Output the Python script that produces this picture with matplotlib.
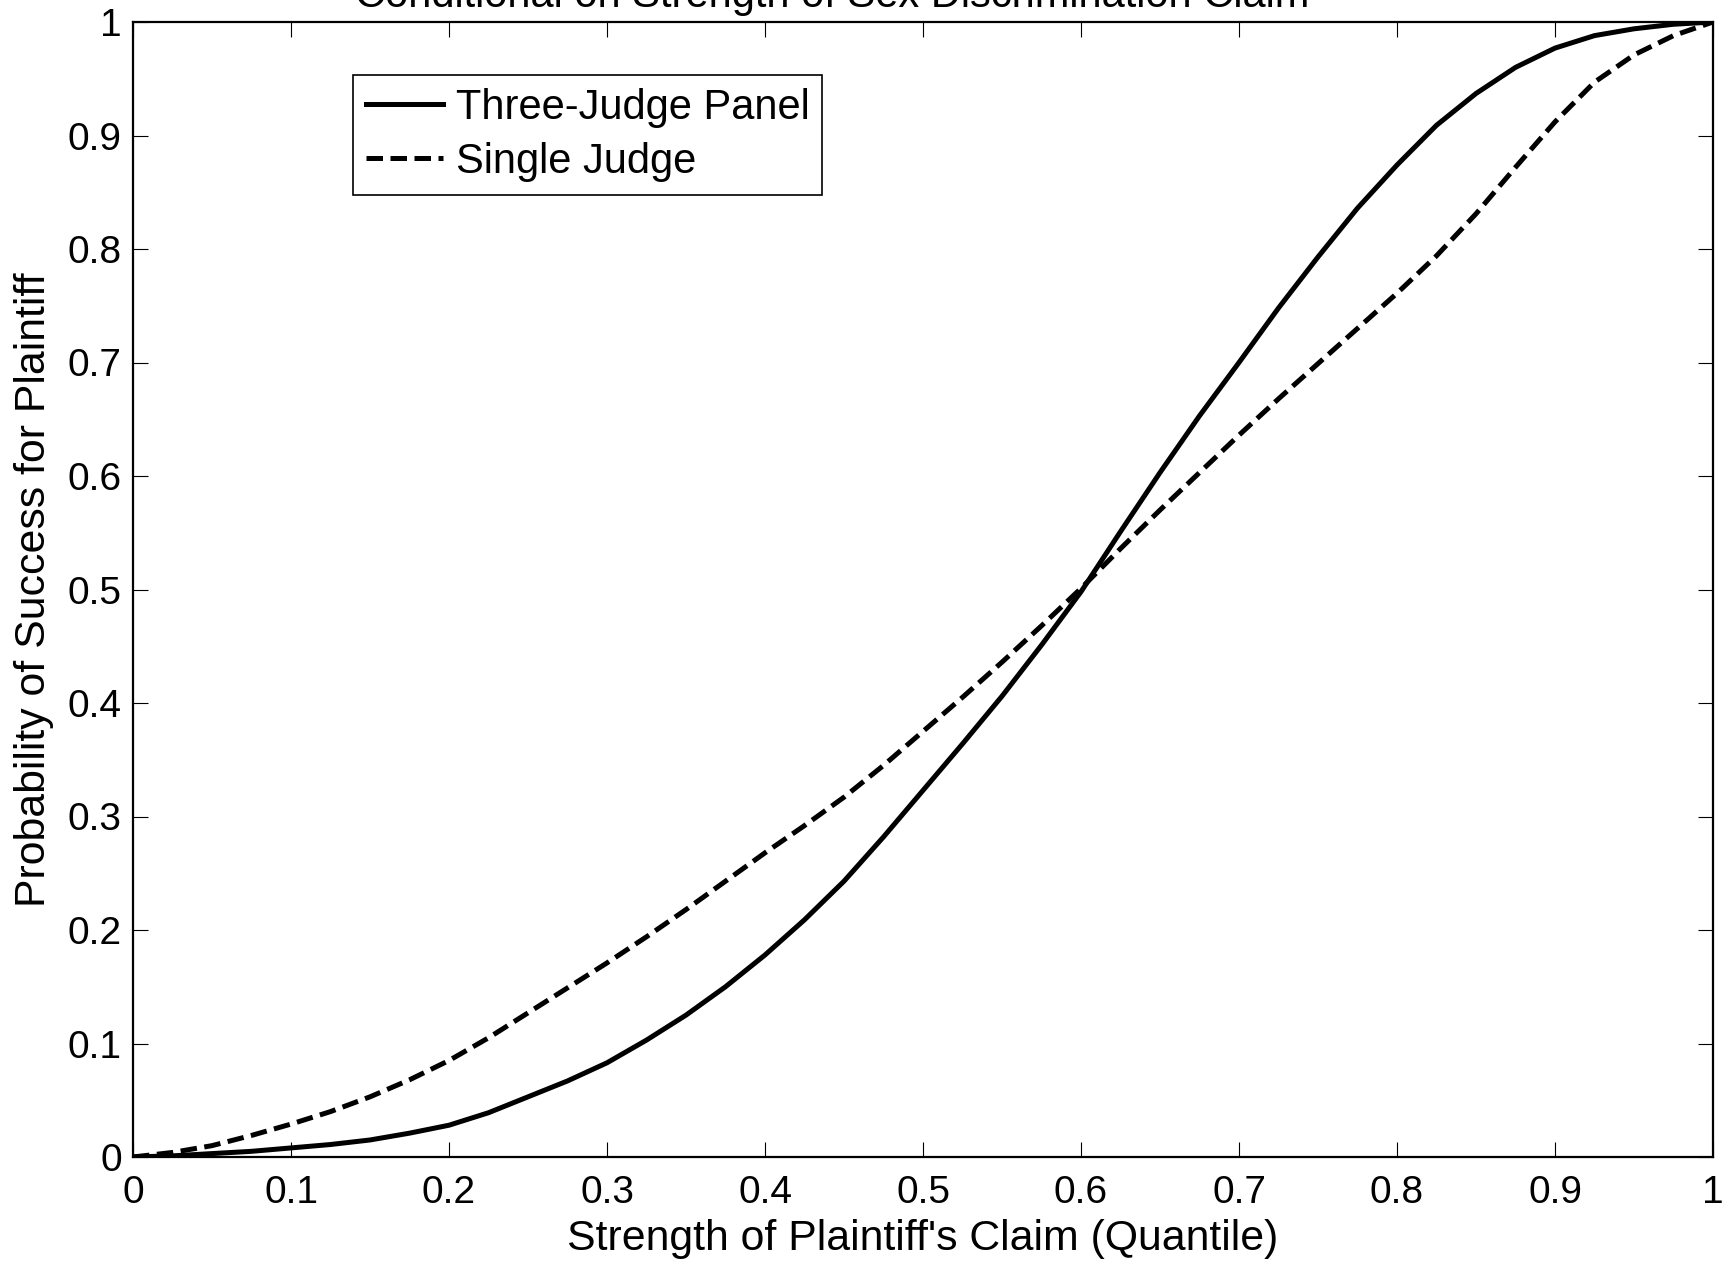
import matplotlib
matplotlib.use("Agg")
import matplotlib.pyplot as plt

plt.rcParams['font.family'] = ['Liberation Sans', 'DejaVu Sans']

x_vals = [0.0, 0.025, 0.05, 0.075, 0.1, 0.125, 0.15, 0.175, 0.2, 0.225,
          0.25, 0.275, 0.3, 0.325, 0.35, 0.375, 0.4, 0.425, 0.45, 0.475,
          0.5, 0.525, 0.55, 0.575, 0.6, 0.625, 0.65, 0.675, 0.7, 0.725,
          0.75, 0.775, 0.8, 0.825, 0.85, 0.875, 0.9, 0.925, 0.95, 0.975, 1.0]
three_judge = [0.0, 0.001, 0.003, 0.005, 0.008, 0.011, 0.015, 0.021, 0.028, 0.039,
               0.053, 0.067, 0.083, 0.103, 0.125, 0.150, 0.178, 0.209, 0.243, 0.282,
               0.323, 0.364, 0.406, 0.451, 0.498, 0.551, 0.603, 0.653, 0.700, 0.748,
               0.793, 0.836, 0.874, 0.909, 0.937, 0.960, 0.977, 0.988, 0.994, 0.998, 1.0]
single_judge = [0.0, 0.004, 0.010, 0.019, 0.029, 0.040, 0.053, 0.068, 0.085, 0.105,
                0.127, 0.149, 0.171, 0.194, 0.218, 0.243, 0.268, 0.292, 0.317, 0.345,
                0.375, 0.405, 0.436, 0.468, 0.501, 0.536, 0.570, 0.603, 0.636, 0.668,
                0.699, 0.730, 0.761, 0.794, 0.831, 0.872, 0.912, 0.947, 0.971, 0.988, 1.0]
series_names = ["Three-Judge Panel", "Single Judge"]
title_text = "Conditional on Strength of Sex Discrimination Claim"
x_label = "Strength of Plaintiff's Claim (Quantile)"
y_label = "Probability of Success for Plaintiff"
ticks = [0, 0.1, 0.2, 0.3, 0.4, 0.5, 0.6, 0.7, 0.8, 0.9, 1]
tick_labels = ["0", "0.1", "0.2", "0.3", "0.4", "0.5", "0.6", "0.7", "0.8", "0.9", "1"]

W, H = 1722, 1261
fig = plt.figure(figsize=(W / 100, H / 100), dpi=100)
L, R, T, B = 133, 1713, 22, 1157
ax = fig.add_axes([L / W, 1 - B / H, (R - L) / W, (B - T) / H])

lw = 3.6
ax.plot(x_vals, three_judge, color='black', lw=lw, solid_joinstyle='round',
        label=series_names[0])
ax.plot(x_vals, single_judge, color='black', lw=lw, linestyle=(0, (3.3, 1.5)),
        label=series_names[1])

ax.set_xlim(0, 1)
ax.set_ylim(0, 1)
ax.set_xticks(ticks)
ax.set_xticklabels(tick_labels)
ax.set_yticks(ticks)
ax.set_yticklabels(tick_labels)
tfs = 28
lfs = 30.8
ax.tick_params(direction='in', length=11, width=0.8, top=True, right=True,
               labelsize=tfs)
ax.tick_params(axis='x', pad=13)
ax.tick_params(axis='y', pad=8)
for s in ax.spines.values():
    s.set_linewidth(1.6)

ax.set_xlabel(x_label, fontsize=lfs, labelpad=6)
ax.set_ylabel(y_label, fontsize=lfs, labelpad=10)

fig.text(832 / W, 1 - 7 / H, title_text, fontsize=30, ha='center', va='baseline')

leg = ax.legend(loc='upper left',
                bbox_to_anchor=((353 - L) / (R - L), (B - 75) / (B - T)),
                fontsize=30, frameon=True, fancybox=False, shadow=False,
                borderaxespad=0, handlelength=1.87, handletextpad=0.29,
                borderpad=0.3, labelspacing=0.35)
leg.get_frame().set_edgecolor('black')
leg.get_frame().set_linewidth(1.2)
leg.get_frame().set_alpha(1)

fig.savefig("out.png", dpi=100)
